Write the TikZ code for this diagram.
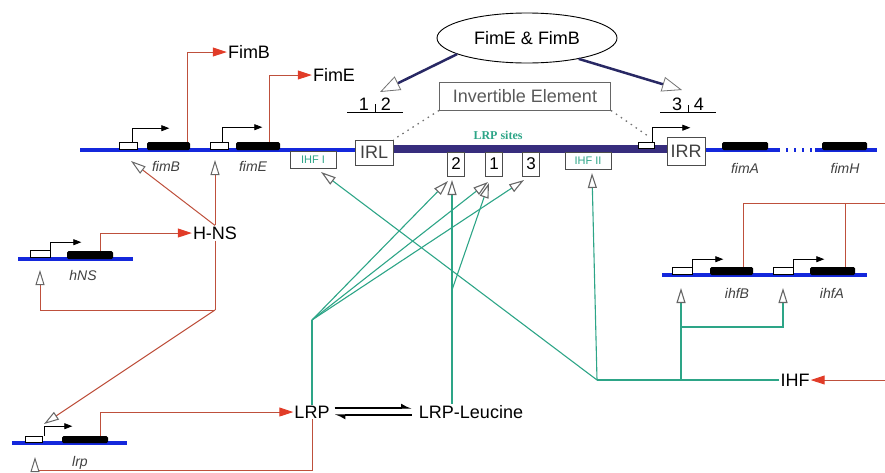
\documentclass[tikz,border=0pt]{standalone}
\usepackage{fontspec}
\setmainfont{Liberation Sans}
\newfontfamily\sitefont{Liberation Serif}
\usetikzlibrary{arrows.meta,shapes.geometric}
\definecolor{dnablue}{RGB}{20,40,220}
\definecolor{invband}{RGB}{55,45,125}
\definecolor{regred}{RGB}{190,80,60}
\definecolor{headred}{RGB}{225,60,40}
\definecolor{lrpgreen}{RGB}{45,165,135}
\definecolor{navyline}{RGB}{40,40,100}

\begin{document}
\begin{tikzpicture}[x=1pt,y=-1pt,
	every node/.style={font=\fontsize{18}{20}\selectfont, inner sep=1pt},
	dna/.style={dnablue, line width=3.5pt},
	prom/.style={draw, fill=white, line width=0.6pt, minimum width=18pt, minimum height=7pt, inner sep=0pt},
	gene/.style={fill=black, rounded corners=1.5pt, minimum height=8pt, inner sep=0pt},
	genelbl/.style={font=\fontsize{14}{16}\selectfont\itshape, text=black!75},
	txstart/.style={line width=0.8pt, -{Triangle[length=8pt,width=6pt]}},
	regline/.style={regred, line width=1pt},
	expr/.style={regline, -{Triangle[length=14pt,width=9pt,color=headred]}},
	act/.style={regline, -{Triangle[length=15pt,width=9pt,color=black!60,fill=white]}},
	bindline/.style={lrpgreen, line width=1.1pt},
	bind/.style={bindline, -{Triangle[length=15pt,width=9pt,color=black!60,fill=white]}},
	invarrow/.style={navyline, line width=2.5pt, -{Triangle[length=20pt,width=15pt,color=black!55,fill=white,line width=0.8pt]}},
	sitebox/.style={draw=black!70, fill=white, line width=0.9pt, inner sep=0pt},
	ihfbox/.style={sitebox, text=lrpgreen, minimum width=46pt, minimum height=17pt, font=\fontsize{11}{12}\selectfont},
	lrpbox/.style={sitebox, minimum width=17pt, minimum height=24pt, font=\fontsize{17}{18}\selectfont},
	cutmark/.style={minimum width=55pt, inner sep=2pt}]
	\useasboundingbox (0,0) rectangle (885,472);
	\draw[dna] (80,150) -- (360,150);
	\draw[invband, line width=8pt] (390,149) -- (670,149);
	\draw[dna] (700,150) -- (780,150);
	\draw[dnablue, line width=3.5pt, dash pattern=on 2pt off 6pt] (786,150) -- (812,150);
	\draw[dna] (815,150) -- (877,150);
	\draw[dna] (18,259) -- (133,259);
	\draw[dna] (12,443) -- (127,443);
	\draw[dna] (662,275) -- (867,275);
	\node[prom] (pB) at (128,146) {};
	\node[gene, minimum width=43pt] (gB) at (168.5,146) {};
	\node[prom] (pE) at (219,146) {};
	\node[gene, minimum width=44pt] (gE) at (258,146) {};
	\node[prom, minimum width=16pt, minimum height=6pt] (pI) at (646,145) {};
	\node[gene, minimum width=46pt] (gA) at (745,146) {};
	\node[gene, minimum width=45pt] (gH) at (844.5,146) {};
	\node[prom, minimum width=20pt] (pN) at (40,254) {};
	\node[gene, minimum width=46pt] (gN) at (90,255) {};
	\node[prom, minimum width=17pt, minimum height=6pt] (pL) at (33.5,439.5) {};
	\node[gene, minimum width=46pt, minimum height=7pt] (gL) at (85,439.5) {};
	\node[prom, minimum width=20pt] (pIB) at (682,271) {};
	\node[gene, minimum width=43pt] (gIB) at (731.5,271) {};
	\node[prom, minimum width=20pt] (pIA) at (783,271) {};
	\node[gene, minimum width=45pt] (gIA) at (832.5,271) {};
	\node[genelbl] (lB) at (166,166) {fimB};
	\node[genelbl] (lE) at (253,166) {fimE};
	\node[genelbl] (lA) at (745,168) {fimA};
	\node[genelbl] (lH) at (845,168) {fimH};
	\node[genelbl] (lN) at (83,275) {hNS};
	\node[genelbl] (lL) at (80,463) {lrp};
	\node[genelbl] (lIB) at (737,293) {ihfB};
	\node[genelbl] (lIA) at (832,293) {ihfA};
	\node[sitebox, minimum width=38pt, minimum height=25pt, text=black!75] (IRL) at (374,152.5) {IRL};
	\node[sitebox, minimum width=38pt, minimum height=28pt, text=black!75] (IRR) at (686,151) {IRR};
	\node[ihfbox] (ihf1) at (313,160) {IHF I};
	\node[ihfbox] (ihf2) at (588,161) {IHF II};
	\node[lrpbox] (b2) at (456,164) {2};
	\node[lrpbox] (b1) at (494,164) {1};
	\node[lrpbox] (b3) at (531,164) {3};
	\node[text=lrpgreen, font=\sitefont\bfseries\fontsize{12}{13}\selectfont] (sites) at (498,135) {LRP sites};
	\node[draw=black!60, line width=0.9pt, minimum width=171pt, minimum height=28pt, text=black!65] (ie) at (525,96) {Invertible Element};
	\node[ellipse, draw, line width=0.9pt, minimum width=180pt, minimum height=50pt, inner sep=0pt] (fe) at (527,38) {FimE \& FimB};
	\node[cutmark] (m12) at (375,104) {1\hspace{12pt}2};
	\node[cutmark] (m34) at (688,104) {3\hspace{12pt}4};
	\node (FimB) at (249,52) {FimB};
	\node (FimE) at (334,75) {FimE};
	\node (hns) at (215,233) {H-NS};
	\node (lrp) at (312,412) {LRP};
	\node (ll) at (471,412) {LRP-Leucine};
	\node (ihf) at (795,380) {IHF};
	\coordinate (c12) at (380,92);
	\coordinate (c34) at (682,90);
	\coordinate (tD) at (648,136);
	\coordinate (tB) at (131,161);
	\coordinate (tE) at (215,160);
	\coordinate (jN) at (215,310);
	\coordinate (tN) at (40,270);
	\coordinate (tLd) at (44,424);
	\coordinate (tL) at (35,457);
	\coordinate (bL) at (35,470);
	\coordinate (jL) at (312,320);
	\coordinate (t2a) at (448,181);
	\coordinate (t1a) at (488,182);
	\coordinate (t3a) at (524,180);
	\coordinate (t2b) at (452,180);
	\coordinate (jB) at (452,290);
	\coordinate (t1b) at (489,183);
	\coordinate (jI) at (597,380);
	\coordinate (tI1) at (321,172);
	\coordinate (tI2) at (592,173);
	\coordinate (jIB) at (681,380);
	\coordinate (jIA) at (681,327);
	\coordinate (tIB) at (681,288);
	\coordinate (tIA) at (783,288);
	\coordinate (rI) at (885,203);
	\coordinate (eI) at (885,380);
	\draw[txstart] ([xshift=-5pt]pB.north east) |- ++(37,-14);
	\draw[txstart] ([xshift=-6pt]pE.north east) |- ++(40,-15);
	\draw[txstart] ([xshift=-2pt]pI.north east) |- ++(38,-14);
	\draw[txstart] (pN.north east) |- ++(31,-8);
	\draw[txstart] ([xshift=2pt]pL.north east) |- ++(28,-10);
	\draw[txstart] (pIB.north east) |- ++(31,-8);
	\draw[txstart] (pIA.north east) |- ++(31,-8);
	\draw[invarrow] (fe.193) -- (c12);
	\draw[invarrow] (fe.338) -- (c34);
	\draw[line width=0.9pt] (m12.south west) -- (m12.south east);
	\draw[line width=0.9pt] (m12.south) -- ++(0,-8);
	\draw[line width=0.9pt] (m34.south west) -- (m34.south east);
	\draw[line width=0.9pt] (m34.south) -- ++(0,-8);
	\draw[black!55, line width=1.3pt, dash pattern=on 1.5pt off 4.5pt] (ie.south west) -- (IRL.north east);
	\draw[black!55, line width=1.3pt, dash pattern=on 1.5pt off 4.5pt] (ie.south east) -- (tD);
	\draw[expr] ([xshift=-3pt]gB.north east) |- (FimB.west);
	\draw[expr] ([xshift=-11pt]gE.north east) |- (FimE.west);
	\draw[expr] ([xshift=-13pt]gN.north east) |- (hns.west);
	\draw[expr] ([xshift=-8pt]gL.north east) |- (lrp.west);
	\draw[regline] ([xshift=-10pt]gIB.north east) |- (rI);
	\draw[regline] ([xshift=-10pt]gIA.north east) |- (rI);
	\draw[expr] (eI) -- (ihf.east);
	\draw[act] (hns.north) -- (tB);
	\draw[act] (hns.north) -- (tE);
	\draw[regline] (hns.south) -- (jN);
	\draw[act] (jN) -| (tN);
	\draw[act] (jN) -- (tLd);
	\draw[act] (lrp.south) |- (bL) -- (tL);
	\draw[-{Latex[left,length=9pt,width=9pt]}, line width=1.1pt] ([xshift=4pt,yshift=4pt]lrp.east) -- ([xshift=-6pt,yshift=4pt]ll.west);
	\draw[-{Latex[left,length=9pt,width=9pt]}, line width=1.1pt] ([xshift=-6pt,yshift=-3pt]ll.west) -- ([xshift=4pt,yshift=-3pt]lrp.east);
	\draw[bindline] (lrp.north) -- (jL);
	\draw[bind] (jL) -- (t2a);
	\draw[bind] (jL) -- (t1a);
	\draw[bind] (jL) -- (t3a);
	\draw[bind] (ll.north -| t2b) -- (t2b);
	\draw[bind] (jB) -- (t1b);
	\draw[bindline] (ihf.west) -- (jI);
	\draw[bind] (jI) -- (tI2);
	\draw[bind] (jI) -- (tI1);
	\draw[bind] (jIB) -- (tIB);
	\draw[bind] (jIA) -| (tIA);
\end{tikzpicture}
\end{document}
